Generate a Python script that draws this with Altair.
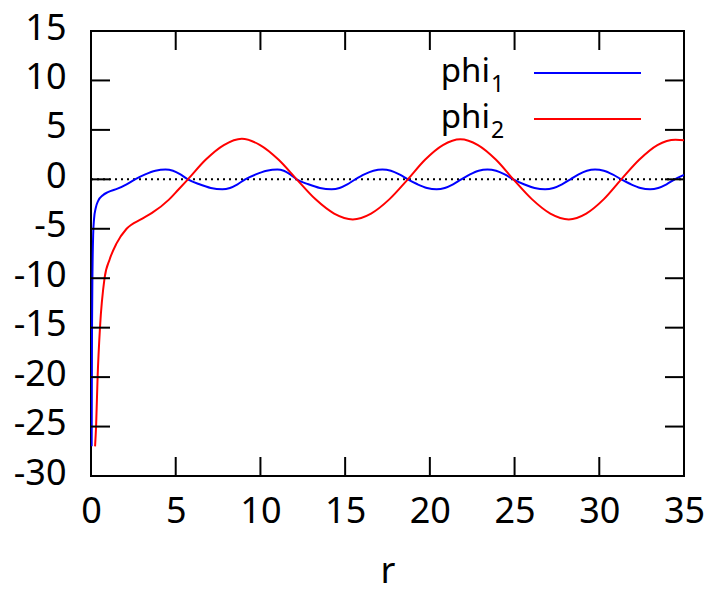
import altair as alt
import pandas as pd

# ---- data ----
series_names = ["phi₁", "phi₂"]
legend_main = ["phi", "phi"]
legend_sub = ["1", "2"]
series_colors = ["#0000ff", "#ff0000"]

r1 = [0.04, 0.06, 0.09, 0.13, 0.18, 0.28, 0.43, 0.7, 1.0, 1.6, 2.1, 2.6,
      3.2, 3.8, 4.4, 4.84, 5.28, 5.72, 6.4, 7.07, 7.75, 8.2, 8.65, 9.1,
      9.73, 10.37, 11.0, 11.38, 11.76, 12.14, 12.83, 13.51, 14.2, 14.67, 15.13, 15.6,
      16.13, 16.67, 17.2, 17.7, 18.2, 18.7, 19.27, 19.83, 20.4, 20.88, 21.37, 21.85,
      22.37, 22.88, 23.4, 23.91, 24.42, 24.93, 25.55, 26.18, 26.8, 27.3, 27.8, 28.3,
      28.78, 29.27, 29.75, 30.27, 30.78, 31.3, 31.87, 32.43, 33.0, 33.48, 33.97, 34.45, 35.0]
v1 = [-27.0, -15.0, -9.0, -5.5, -4.0, -2.9, -2.15, -1.6, -1.3, -0.92, -0.5, 0.0,
      0.5, 0.87, 1.0, 0.87, 0.5, 0.0, -0.5, -0.87, -1.0, -0.87, -0.5, 0.0,
      0.5, 0.87, 1.0, 0.87, 0.5, 0.0, -0.5, -0.87, -1.0, -0.87, -0.5, 0.0,
      0.5, 0.87, 1.0, 0.87, 0.5, 0.0, -0.5, -0.87, -1.0, -0.87, -0.5, 0.0,
      0.5, 0.87, 1.0, 0.87, 0.5, 0.0, -0.5, -0.87, -1.0, -0.87, -0.5, 0.0,
      0.5, 0.87, 1.0, 0.87, 0.5, 0.0, -0.5, -0.87, -1.0, -0.87, -0.5, 0.0, 0.45]

r2 = [0.24, 0.3, 0.39, 0.53, 0.8, 1.1, 1.5, 2.1, 3.0, 3.6, 4.6, 5.15, 5.72,
      6.78, 7.84, 8.9, 9.98, 11.06, 12.14, 13.24, 14.35, 15.45, 16.53, 17.62, 18.7,
      19.73, 20.77, 21.8, 22.84, 23.89, 24.93, 26.02, 27.11, 28.2, 29.23, 30.27, 31.3,
      32.37, 33.43, 34.5, 35.0]
v2 = [-27.0, -25.0, -20.0, -15.0, -10.0, -8.1, -6.5, -5.0, -4.0, -3.4, -2.05, -1.05, 0.0,
      2.0, 3.46, 4.1, 3.46, 2.0, 0.0, -2.0, -3.46, -4.05, -3.46, -2.0, 0.0,
      2.0, 3.46, 4.05, 3.46, 2.0, 0.0, -2.0, -3.46, -4.05, -3.46, -2.0, 0.0,
      2.0, 3.46, 4.0, 3.95]

zero_r = [0, 35]
zero_v = [0, 0]

x_ticks = [0, 5, 10, 15, 20, 25, 30, 35]
y_ticks = [-30, -25, -20, -15, -10, -5, 0, 5, 10, 15]

# ---- build tables ----
df = pd.concat([
    pd.DataFrame({"r": r1, "phi": v1, "series": series_names[0]}),
    pd.DataFrame({"r": r2, "phi": v2, "series": series_names[1]}),
], ignore_index=True)
zero_df = pd.DataFrame({"r": zero_r, "phi": zero_v})
xt_df = pd.DataFrame({"t": x_ticks})
yt_df = pd.DataFrame({"t": y_ticks})

W, H = 593, 445
FONT = "Noto Sans"
FS = 36
TL = 19  # inward tick length

xscale = alt.Scale(domain=[0, 35], nice=False, zero=False)
yscale = alt.Scale(domain=[-30, 15], nice=False, zero=False)

zero_line = alt.Chart(zero_df).mark_line(
    color="black", strokeDash=[2, 4], strokeWidth=2
).encode(
    x=alt.X("r:Q", scale=xscale, axis=None),
    y=alt.Y("phi:Q", scale=yscale, axis=None),
)

lines = alt.Chart(df).mark_line(strokeWidth=2, interpolate="monotone", clip=True).encode(
    x=alt.X("r:Q", scale=xscale, axis=alt.Axis(
        values=x_ticks, ticks=False, domain=False, grid=False, labelFlush=False,
        labelFontSize=FS, labelFont=FONT, labelColor="black", labelPadding=18, labelOffset=0,
        title="r", titleFontSize=FS, titleFont=FONT, titleFontWeight="normal",
        titleColor="black", titlePadding=25)),
    y=alt.Y("phi:Q", scale=yscale, axis=alt.Axis(
        values=y_ticks, ticks=False, domain=False, grid=False,
        labelExpr="toString(datum.value)",
        labelFontSize=FS, labelFont=FONT, labelColor="black", labelPadding=25,
        labelOffset=-3, title=None)),
    color=alt.Color("series:N", scale=alt.Scale(domain=series_names, range=series_colors),
                    legend=None),
)

# inward ticks on all four sides (gnuplot style)
rule_kw = dict(color="black", strokeWidth=2)
ticks_bottom = alt.Chart(xt_df).mark_rule(**rule_kw).encode(
    x=alt.X("t:Q", scale=xscale, axis=None), y=alt.value(H), y2=alt.value(H - TL))
ticks_top = alt.Chart(xt_df).mark_rule(**rule_kw).encode(
    x=alt.X("t:Q", scale=xscale, axis=None), y=alt.value(0), y2=alt.value(TL))
ticks_left = alt.Chart(yt_df).mark_rule(**rule_kw).encode(
    y=alt.Y("t:Q", scale=yscale, axis=None), x=alt.value(0), x2=alt.value(TL))
ticks_right = alt.Chart(yt_df).mark_rule(**rule_kw).encode(
    y=alt.Y("t:Q", scale=yscale, axis=None), x=alt.value(W), x2=alt.value(W - TL))

# ---- manual key (labels on the left of the line samples, gnuplot style) ----
key_layers = []
ROW = 46
for i in range(len(series_names)):
    kd = pd.DataFrame({"main": [legend_main[i]], "sub": [legend_sub[i]]})
    key_layers.append(alt.Chart(kd).mark_rule(color=series_colors[i], strokeWidth=2).encode(
        x=alt.value(443), x2=alt.value(550), y=alt.value(42 + ROW * i)))
    key_layers.append(alt.Chart(kd).mark_text(
        align="right", baseline="alphabetic", font=FONT, fontSize=33, color="black"
    ).encode(text="main:N", x=alt.value(399), y=alt.value(51 + ROW * i)))
    key_layers.append(alt.Chart(kd).mark_text(
        align="left", baseline="alphabetic", font=FONT, fontSize=23, color="black"
    ).encode(text="sub:N", x=alt.value(400), y=alt.value(61 + ROW * i)))

chart = alt.layer(
    zero_line, lines, ticks_bottom, ticks_top, ticks_left, ticks_right, *key_layers
).resolve_axis(
    x="independent", y="independent"
).properties(
    width=W, height=H,
    autosize=alt.AutoSizeParams(type="none"),
    padding={"left": 83, "top": 23, "right": 21, "bottom": 115},
    background="white",
).configure_view(stroke="black", strokeWidth=2)

chart.save("out.html", embed_options={"renderer": "svg", "actions": False})
